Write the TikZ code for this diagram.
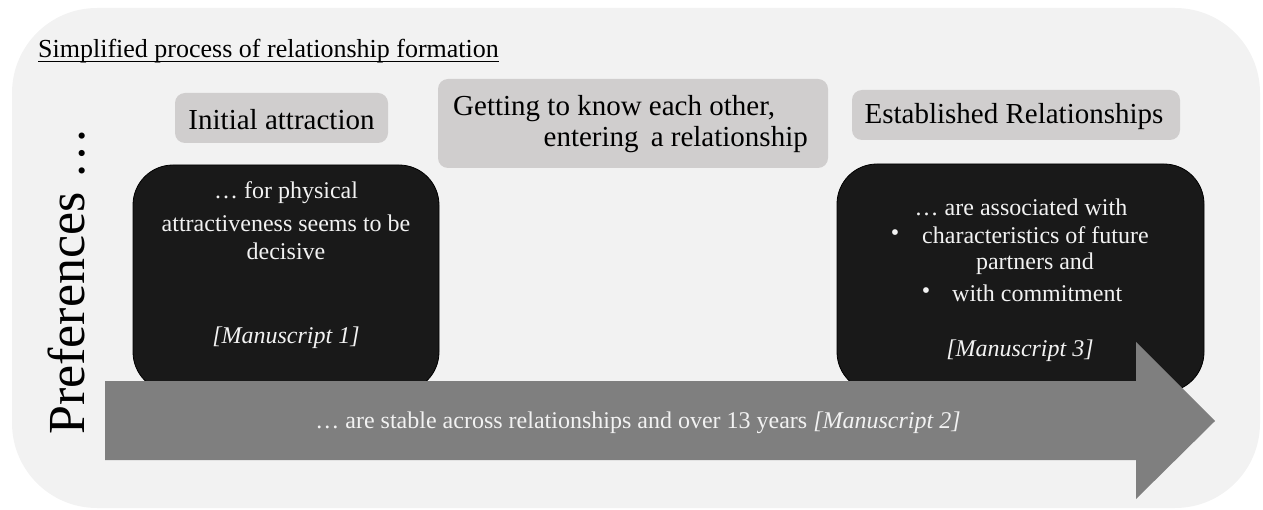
\documentclass[tikz,border=0pt]{standalone}
\usepackage{fontspec}
\setmainfont{Liberation Serif}
\definecolor{bgc}{HTML}{F2F2F2}
\definecolor{hdc}{HTML}{D0CECE}
\definecolor{dkc}{HTML}{191919}
\definecolor{arc}{HTML}{7F7F7F}
\tikzset{
  hdbox/.style={fill=hdc, draw=none, rounded corners=10pt},
  dkbox/.style={fill=dkc, draw=black, line width=0.8pt, rounded corners=40pt},
  hdtext/.style={font=\fontsize{29}{31}\selectfont, text=black, inner sep=0pt},
  bxtext/.style={font=\fontsize{24}{29}\selectfont, text=bgc, inner sep=0pt},
}
\begin{document}
\begin{tikzpicture}[x=1pt,y=-1pt]
\useasboundingbox (0,0) rectangle (1263,510);
% background panel
\fill[bgc, rounded corners=85pt] (12,8) rectangle (1260,508);
% title
\node[anchor=base west, inner sep=0pt, font=\fontsize{26}{30}\selectfont] (title) at (38,58) {Simplified process of relationship formation};
\draw[line width=1pt] ([yshift=-3.5pt]title.base west) -- ([yshift=-3.5pt]title.base east);
% header boxes
\fill[hdbox] (175,93) rectangle (388,143);
\node[hdtext] (init) at (281.5,120) {Initial attraction};
\fill[hdbox] (438,79) rectangle (828,168);
\node[hdtext, anchor=west] (get1) at (453,109) {Getting to know each other,};
\node[hdtext, anchor=east] (get2) at (808,140) {entering\, a relationship};
\fill[hdbox] (852,90) rectangle (1180,140);
\node[hdtext] (estab) at (1014,117) {Established Relationships};
% dark boxes
\draw[dkbox] (133,165) rectangle (439,392);
\draw[dkbox] (837,164) rectangle (1204,392);
% arrow
\fill[arc] (105,381) -- (1136,381) -- (1136,342) -- (1215,421) -- (1136,499) -- (1136,460) -- (105,460) -- cycle;
% texts box 1
\node[bxtext] (b1a) at (286,193) {… for physical};
\node[bxtext] (b1b) at (286,223) {attractiveness seems to be};
\node[bxtext] (b1c) at (286,251) {decisive};
\node[bxtext] (b1d) at (286,338) {\itshape [Manuscript 1]};
% texts box 2
\node[bxtext] (b2a) at (1021,207) {… are associated with};
\node[bxtext] (b2bul1) at (895,235) {•};
\node[bxtext, anchor=west] (b2b) at (922,235) {characteristics of future};
\node[bxtext] (b2c) at (1035,264) {partners and};
\node[bxtext] (b2bul2) at (926,293) {•};
\node[bxtext, anchor=west] (b2d) at (952,293) {with commitment};
\node[bxtext] (b2e) at (1020,351) {\itshape [Manuscript 3]};
% arrow text
\node[bxtext] (arrtext) at (638,423) {… are stable across relationships and over 13 years \textit{[Manuscript 2]}};
% side label
\node[rotate=90, anchor=base west, inner sep=0pt, font=\fontsize{52}{56}\selectfont] (pref) at (84,435) {Preferences …};
\end{tikzpicture}
\end{document}
